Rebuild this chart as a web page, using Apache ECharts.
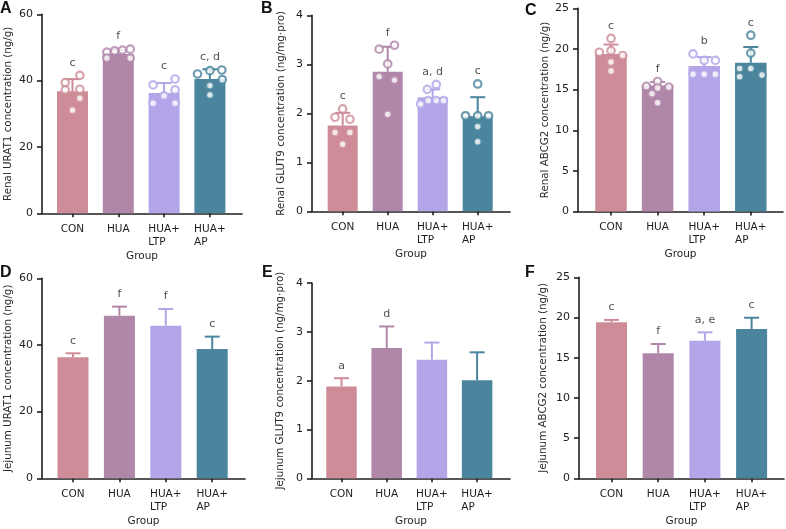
<!DOCTYPE html>
<html><head><meta charset="utf-8">
<script src="https://cdn.jsdelivr.net/npm/echarts@6/dist/echarts.min.js"></script>
<style>html,body{margin:0;padding:0;background:#fff}#c{width:786px;height:529px}</style>
</head><body><div id="c"></div>
<script>
// ---------- data ----------
const groups = ['CON', 'HUA', 'HUA+\nLTP', 'HUA+\nAP'];
const colors = ['#cd8c97', '#b086a9', '#b3a5e8', '#4a859d'];

// A: Renal URAT1 (ng/g)
const aMean = [36.8, 48.0, 36.3, 40.5];
const aSD = [3.66, 1.2, 2.97, 2.93];
const aDots = [[41.6, 39.4, 37.2, 37.4, 34.7, 31.1], [48.6, 49.0, 49.2, 49.5, 46.8, 46.8], [40.5, 38.7, 37.2, 35.4, 33.2, 33.2], [42.0, 43.0, 43.2, 40.3, 38.5, 35.7]];
const aSpread = [[0.16, -0.16, -0.16, 0.16, 0.16, 0], [-0.25, -0.08, 0.09, 0.26, -0.25, 0.26], [0.24, -0.24, 0.24, 0, -0.24, 0.24], [-0.27, 0, 0.26, 0.27, 0, 0]];
const aSig = ['c', 'f', 'c', 'c, d'];

// B: Renal GLUT9 (ng/mg·pro)
const bMean = [1.75, 2.85, 2.33, 1.94];
const bSD = [0.26, 0.51, 0.16, 0.39];
const bDots = [[2.09, 1.92, 1.88, 1.61, 1.61, 1.37], [3.31, 3.39, 3.01, 2.75, 2.68, 1.98], [2.59, 2.49, 2.19, 2.26, 2.26, 2.26], [2.60, 1.95, 1.95, 1.95, 1.73, 1.42]];
const bSpread = [[0, -0.17, 0.16, -0.17, 0.16, 0], [-0.19, 0.15, 0, -0.19, 0.15, 0], [0.08, -0.12, -0.27, -0.10, 0.08, 0.24], [0, -0.27, 0, 0.24, 0, 0]];
const bSig = ['c', 'f', 'a, d', 'c'];

// C: Renal ABCG2 (ng/g)
const cMean = [19.4, 15.5, 17.9, 18.3];
const cSD = [1.15, 0.45, 1.1, 1.95];
const cDots = [[21.3, 19.6, 19.8, 19.2, 18.4, 17.3], [16.0, 15.4, 15.3, 15.2, 14.5, 13.4], [19.4, 18.6, 18.6, 16.9, 16.9, 16.9], [21.7, 19.5, 17.6, 17.6, 16.6, 16.8]];
const cSpread = [[0, -0.25, 0, 0.25, 0, 0], [0, -0.24, 0.24, 0, -0.12, 0], [-0.24, 0, 0.24, -0.24, 0, 0.24], [0, 0, -0.24, 0, -0.24, 0.24]];
const cSig = ['c', 'f', 'b', 'c'];

// D: Jejunum URAT1 (ng/g)
const dMean = [36.3, 48.8, 45.8, 38.8];
const dSD = [1.2, 2.7, 5.0, 3.7];
const dSig = ['c', 'f', 'f', 'c'];

// E: Jejunum GLUT9 (ng/mg·pro)
const eMean = [1.88, 2.67, 2.43, 2.01];
const eSD = [0.17, 0.44, 0.35, 0.57];
const eSig = ['a', 'd', '', ''];

// F: Jejunum ABCG2 (ng/g)
const fMean = [19.4, 15.55, 17.1, 18.57];
const fSD = [0.3, 1.15, 1.05, 1.4];
const fSig = ['c', 'f', 'a, e', 'c'];

// y-axis ticks
const yMaxA = 60, yStepA = 20;
const yMaxB = 4, yStepB = 1;
const yMaxC = 25, yStepC = 5;

// ---------- layout ----------
const panels = [
  {tag: 'A', title: 'Renal URAT1 concentration (ng/g)', max: yMaxA, step: yStepA, mean: aMean, sd: aSD, dots: aDots, spread: aSpread, sig: aSig,
   box: {l: 42, r: 242, t: 14.3, b: 213.3, first: 72.5, w: 45.8, bw: 31, gap: 29}},
  {tag: 'B', title: 'Renal GLUT9 concentration (ng/mg·pro)', max: yMaxB, step: yStepB, mean: bMean, sd: bSD, dots: bDots, spread: bSpread, sig: bSig,
   box: {l: 312, r: 510, t: 15.4, b: 211.3, first: 342.7, w: 45, bw: 30, gap: 26}},
  {tag: 'C', title: 'Renal ABCG2 concentration (ng/g)', max: yMaxC, step: yStepC, mean: cMean, sd: cSD, dots: cDots, spread: cSpread, sig: cSig,
   box: {l: 578, r: 783, t: 8.4, b: 211.5, first: 611, w: 46.6, bw: 31.5, gap: 28}},
  {tag: 'D', title: 'Jejunum URAT1 concentration (ng/g)', max: yMaxA, step: yStepA, mean: dMean, sd: dSD, sig: dSig,
   box: {l: 42, r: 245, t: 278.3, b: 478.3, first: 73, w: 46.4, bw: 31, gap: 29}},
  {tag: 'E', title: 'Jejunum GLUT9 concentration (ng/mg·pro)', max: yMaxB, step: yStepB, mean: eMean, sd: eSD, sig: eSig,
   box: {l: 312, r: 510, t: 283, b: 478.3, first: 341.5, w: 45.2, bw: 30.5, gap: 27}},
  {tag: 'F', title: 'Jejunum ABCG2 concentration (ng/g)', max: yMaxC, step: yStepC, mean: fMean, sd: fSD, sig: fSig,
   box: {l: 579, r: 784, t: 277.3, b: 478.3, first: 611.5, w: 46.7, bw: 31, gap: 31}}
];
const tagPos = [[0, 1], [261, 1], [525, 3], [0, 265], [262, 265], [525, 265]];

const FONT = 'DejaVu Sans';
const INK = '#1e1e1e';
const axisLine = {color: INK, width: 1.6};

function labelFmt(v) {
  const s = groups[Math.round(v)] || '';
  if (s.indexOf('\n') < 0) return s;
  return s.split('\n').map(p => '{l|' + p + '}').join('\n');
}

const grid = [], xAxis = [], yAxis = [], series = [], graphic = [];
panels.forEach((p, i) => {
  const bx = p.box;
  grid.push({left: bx.l, top: bx.t, width: bx.r - bx.l, height: bx.b - bx.t, containLabel: false});
  xAxis.push({
    type: 'value', gridIndex: i,
    min: -(bx.first - bx.l) / bx.w, max: (bx.r - bx.first) / bx.w,
    axisLine: {show: true, onZero: false, lineStyle: axisLine},
    splitLine: {show: false},
    axisTick: {show: true, customValues: [0, 1, 2, 3], length: 4, lineStyle: axisLine},
    axisLabel: {customValues: [0, 1, 2, 3], formatter: labelFmt, margin: 9, fontSize: 10.5, fontFamily: FONT, color: INK, lineHeight: 13,
      rich: {l: {align: 'left', fontSize: 10.5, fontFamily: FONT, color: INK, lineHeight: 13}}},
    name: 'Group', nameLocation: 'middle', nameGap: 37,
    nameTextStyle: {fontSize: 10.5, fontFamily: FONT, color: INK}
  });
  yAxis.push({
    type: 'value', gridIndex: i, min: 0, max: p.max, interval: p.step,
    axisLine: {show: true, onZero: false, lineStyle: axisLine},
    axisTick: {show: true, length: 5, lineStyle: axisLine},
    splitLine: {show: false},
    axisLabel: {margin: 9, fontSize: 11, fontFamily: FONT, color: INK},
    name: p.title, nameLocation: 'middle', nameGap: bx.gap,
    nameTextStyle: {fontSize: 10.3, fontFamily: FONT, color: '#2a2a2a'}
  });
  // bars
  series.push({
    type: 'bar', xAxisIndex: i, yAxisIndex: i, barWidth: bx.bw, z: 2,
    data: p.mean.map((m, j) => ({value: [j, m], itemStyle: {color: colors[j]}}))
  });
  // error bars (mean + SD)
  series.push({
    type: 'custom', xAxisIndex: i, yAxisIndex: i, z: 3,
    encode: {x: 0, y: [1, 2]},
    data: p.mean.map((m, j) => [j, m, m + p.sd[j]]),
    renderItem: (params, api) => {
      const x = api.value(0);
      const p0 = api.coord([x, api.value(1)]);
      const p1 = api.coord([x, api.value(2)]);
      const c = colors[params.dataIndex];
      return {type: 'group', children: [
        {type: 'line', shape: {x1: p0[0], y1: p0[1], x2: p1[0], y2: p1[1]}, style: {stroke: c, lineWidth: 2}},
        {type: 'line', shape: {x1: p1[0] - 7.5, y1: p1[1], x2: p1[0] + 7.5, y2: p1[1]}, style: {stroke: c, lineWidth: 2}}
      ]};
    }
  });
  // individual points
  if (p.dots) {
    const pts = [];
    p.dots.forEach((arr, j) => arr.forEach((v, k) => {
      pts.push({value: [j + p.spread[j][k], v], itemStyle: {color: '#fff', borderColor: colors[j], borderWidth: 2.2}});
    }));
    series.push({type: 'scatter', xAxisIndex: i, yAxisIndex: i, z: 4, symbol: 'circle', symbolSize: 7.5, data: pts});
  }
  // significance letters
  series.push({
    type: 'scatter', xAxisIndex: i, yAxisIndex: i, z: 5, symbolSize: 0.1,
    itemStyle: {color: 'rgba(0,0,0,0)'},
    data: p.mean.map((m, j) => {
      let top = m + p.sd[j];
      if (p.dots) top = Math.max(top, ...p.dots[j]);
      return {value: [j, top], name: p.sig[j]};
    }),
    label: {show: true, position: 'top', distance: 7, formatter: d => d.name, fontSize: 11, fontFamily: FONT, color: INK}
  });
  graphic.push({type: 'text', left: tagPos[i][0], top: tagPos[i][1],
    style: {text: p.tag, font: 'bold 16px "Liberation Sans", Arial, sans-serif', fill: '#111'}});
});

const chart = echarts.init(document.getElementById('c'), null, {renderer: 'canvas'});
chart.setOption({animation: false, backgroundColor: '#fff', grid, xAxis, yAxis, series, graphic});
</script></body></html>
